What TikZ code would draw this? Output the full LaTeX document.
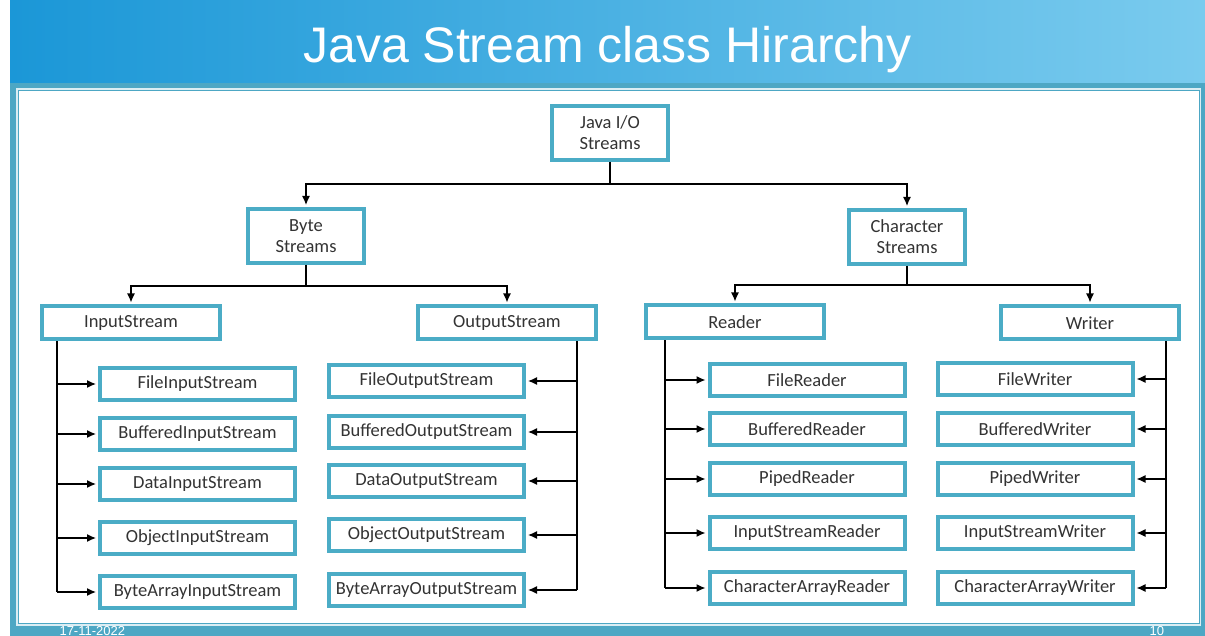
\documentclass[tikz,border=0pt]{standalone}
\usepackage{fontspec}
\setmainfont{Liberation Sans}
\newfontfamily\boxfont{Carlito}
\usetikzlibrary{arrows.meta, positioning}
\definecolor{cteal}{HTML}{4BACC6}
\definecolor{cframe}{HTML}{4DA7C4}
\definecolor{chead}{HTML}{1B97D7}
\definecolor{cheadlight}{HTML}{7ACBEE}
\definecolor{ctext}{HTML}{333333}
\tikzset{
  every picture/.style={x=1pt, y=-1pt},
  box/.style={draw=cteal, line width=4pt, fill=white, align=center, text=ctext, inner sep=2pt,
    font=\boxfont\fontsize{18.5}{21}\selectfont, minimum width=#1, minimum height=33pt},
  box/.default=178pt,
  twoline/.style={box=116pt, minimum height=54pt},
  leaf/.style={box=195pt, minimum height=32pt},
  link/.style={draw=black, line width=1.3pt},
  arrow/.style={link, -{Latex[length=9pt, width=8pt]}, shorten >=2pt},
  title/.style={font=\fontsize{50}{60}\selectfont, text=white},
  foot/.style={font=\fontsize{13}{16}\selectfont, text=white},
}
\begin{document}
\begin{tikzpicture}
  \clip (0,0) rectangle (1205,636);
  % slide header and frame
  \fill[white] (0,0) rectangle (1205,636);
  \shade[left color=chead, right color=cheadlight] (10,0) rectangle (1205,84);
  \fill[cframe] (10,83) rectangle (1205,636);
  \fill[white!80!cframe] (16,88) rectangle (1201,626);
  \draw[cframe, line width=1pt, fill=white] (18.5,90.5) rectangle (1199.5,623.5);
  \node[title, anchor=base] (head) at (607.5,63) {Java Stream class Hirarchy};
  \node[foot, anchor=base west] (date) at (56,635) {17-11-2022};
  \node[foot, anchor=base west] (page) at (1146,635) {10};

  % hierarchy
  \node[twoline] (java) at (610,133) {Java I/O\\Streams};
  \node[twoline] (byte) at (306,236) {Byte\\Streams};
  \node[twoline] (char) at (907,237) {Character\\Streams};
  \node[box] (in) at (131,323) {InputStream};
  \node[box] (out) at (507,323) {OutputStream};
  \node[box] (rd) at (735,322) {Reader};
  \node[box] (wr) at (1090,323) {Writer};

  \foreach \n/\y [count=\i] in {File/384, Buffered/434, Data/484, Object/538, ByteArray/592}
    \node[leaf] (in\i) at (197.5,\y) {\n InputStream};
  \foreach \n/\y [count=\i] in {File/381, Buffered/432, Data/481, Object/535, ByteArray/590}
    \node[leaf] (out\i) at (426.5,\y) {\n OutputStream};
  \foreach \n/\y [count=\i] in {File/380, Buffered/429, Piped/479, InputStream/533, CharacterArray/588}
    \node[leaf] (rd\i) at (807,\y) {\n Reader};
  \foreach \n/\y [count=\i] in {File/379, Buffered/429, Piped/479, InputStream/533, CharacterArray/588}
    \node[leaf] (wr\i) at (1035,\y) {\n Writer};

  % connectors
  \draw[arrow] (java.south) -- ++(0,22) -| (byte.north);
  \draw[arrow] (java.south) -- ++(0,22) -| (char.north);
  \draw[arrow] (byte.south) -- ++(0,21) -| (in.north);
  \draw[arrow] (byte.south) -- ++(0,21) -| (out.north);
  \draw[arrow] (char.south) -- ++(0,19) -| (rd.north);
  \draw[arrow] (char.south) -- ++(0,19) -| (wr.north);

  \coordinate (itrunk) at (57,0);
  \coordinate (otrunk) at (577,0);
  \coordinate (rtrunk) at (665,0);
  \coordinate (wtrunk) at (1166,0);
  \draw[link] (in.south -| itrunk) -- (in5 -| itrunk);
  \draw[link] (out.south -| otrunk) -- (out5 -| otrunk);
  \draw[link] (rd.south -| rtrunk) -- (rd5 -| rtrunk);
  \draw[link] (wr.south -| wtrunk) -- (wr5 -| wtrunk);
  \foreach \i in {1,...,5} {
    \draw[arrow] (in\i -| itrunk) -- (in\i);
    \draw[arrow] (out\i -| otrunk) -- (out\i);
    \draw[arrow] (rd\i -| rtrunk) -- (rd\i);
    \draw[arrow] (wr\i -| wtrunk) -- (wr\i);
  }
\end{tikzpicture}
\end{document}
